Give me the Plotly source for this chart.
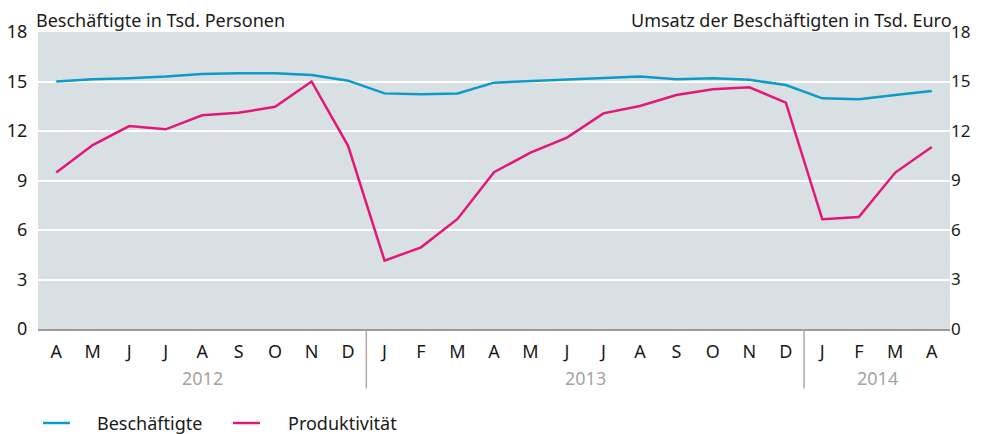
import plotly.graph_objects as go

months = ["A", "M", "J", "J", "A", "S", "O", "N", "D",
          "J", "F", "M", "A", "M", "J", "J", "A", "S", "O", "N", "D",
          "J", "F", "M", "A"]
years = ["2012", "2013", "2014"]
year_centers = [4, 14.5, 22.5]
year_breaks = [8.5, 20.5]

beschaeftigte = [15.0, 15.13, 15.2, 15.3, 15.45, 15.5, 15.5, 15.4, 15.05,
                 14.28, 14.22, 14.28, 14.93, 15.03, 15.13, 15.24, 15.3, 15.13, 15.2, 15.1, 14.79,
                 13.98, 13.92, 14.18, 14.42]
produktivitaet = [9.48, 11.15, 12.3, 12.1, 12.95, 13.1, 13.47, 15.0, 11.1,
                  4.14, 4.95, 6.67, 9.5, 10.69, 11.6, 13.07, 13.52, 14.18, 14.53, 14.65, 13.72,
                  6.65, 6.79, 9.48, 11.03]
series_names = ["Beschäftigte", "Produktivität"]

x = list(range(len(months)))
BLUE = "#0a9bc8"
MAGENTA = "#e2177a"
FONT = "Noto Sans"
TXT = "#1a1a1a"

fig = go.Figure()
fig.add_trace(go.Scatter(x=x, y=beschaeftigte, mode="lines", name=series_names[0],
                         line=dict(color=BLUE, width=2.5), yaxis="y"))
fig.add_trace(go.Scatter(x=x, y=produktivitaet, mode="lines", name=series_names[1],
                         line=dict(color=MAGENTA, width=2.5), yaxis="y2"))

shapes = []
for b in year_breaks:
    shapes.append(dict(type="line", xref="x", yref="paper", x0=b, x1=b, y0=0, y1=-0.2,
                       line=dict(color="#aaaaaa", width=1.5)))

annotations = []
for yr, c in zip(years, year_centers):
    annotations.append(dict(x=c, y=-0.165, xref="x", yref="paper", text=yr, showarrow=False,
                            font=dict(family=FONT, size=18, color="#a3a3a3"), yanchor="middle"))
annotations.append(dict(x=0, y=1.0, xref="paper", yref="paper", xanchor="left", yanchor="bottom",
                        text="Beschäftigte in Tsd. Personen", showarrow=False, xshift=-4, yshift=-2,
                        font=dict(family=FONT, size=18, color=TXT)))
annotations.append(dict(x=1, y=1.0, xref="paper", yref="paper", xanchor="right", yanchor="bottom",
                        text="Umsatz der Beschäftigten in Tsd. Euro", showarrow=False, xshift=4, yshift=-2,
                        font=dict(family=FONT, size=18, color=TXT)))

# manual legend
leg_y = -0.3165
leg_items = [(0.0055, 0.035, 0.0625, BLUE), (0.2138, 0.2434, 0.272, MAGENTA)]
for (x0, x1, xt, col), nm in zip(leg_items, series_names):
    shapes.append(dict(type="line", xref="paper", yref="paper", x0=x0, x1=x1, y0=leg_y, y1=leg_y,
                       line=dict(color=col, width=2.5)))
    annotations.append(dict(x=xt, y=leg_y, xref="paper", yref="paper", xanchor="left", yanchor="middle",
                            text=nm, showarrow=False, font=dict(family=FONT, size=18, color=TXT)))

fig.update_layout(
    width=974, height=426,
    margin=dict(l=30, r=32, t=24, b=105, autoexpand=False),
    paper_bgcolor="white",
    plot_bgcolor="#d9e0e3",
    font=dict(family=FONT, size=18, color=TXT),
    showlegend=False,
    xaxis=dict(range=[-0.5, len(months) - 0.5], tickmode="array", tickvals=x, ticktext=months,
               showgrid=False, zeroline=False, showline=True, linecolor="#9a9a9a", linewidth=2,
               ticks="outside", ticklen=5, tickcolor="rgba(0,0,0,0)", fixedrange=True,
               automargin=False),
    yaxis=dict(range=[0, 18], dtick=3, tick0=0, showgrid=True, gridcolor="white", gridwidth=2,
               zeroline=False, ticks="outside", ticklen=6, tickcolor="rgba(0,0,0,0)",
               automargin=False),
    yaxis2=dict(range=[0, 18], dtick=3, tick0=0, overlaying="y", side="right", showgrid=False,
                zeroline=False, ticks="", ticklen=0,
                tickfont=dict(family=FONT, size=17, color=TXT),
                automargin=False),
    shapes=shapes,
    annotations=annotations,
)

fig.write_html("out.html")
